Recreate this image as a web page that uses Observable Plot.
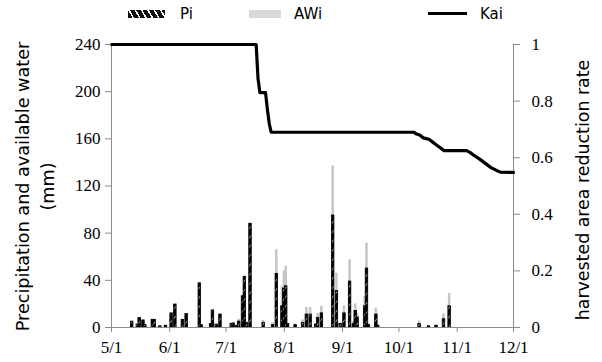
<!DOCTYPE html>
<html>
<head>
<meta charset="utf-8">
<script src="https://cdn.jsdelivr.net/npm/d3@7"></script>
<script src="https://cdn.jsdelivr.net/npm/@observablehq/plot@0.6"></script>
<style>
  body { margin: 0; background: white; }
  #wrap { position: relative; width: 602px; height: 362px; }
  #legend { position: relative; height: 30px; width: 602px; font-family: "DejaVu Sans", sans-serif; font-size: 15px; }
  #legend .sw { position: absolute; }
  #legend .lb { position: absolute; top: 5px; line-height: 18px; }
  #chart svg { background: white; overflow: visible; }
  #chart svg g[aria-label$="tick label"] text { font-family: "Liberation Serif"; }
</style>
</head>
<body>
<div id="wrap">
  <div id="legend">
    <div class="sw" style="left:128px;top:10px;width:37px;height:8px;background:repeating-linear-gradient(60deg,#111 0px,#111 4px,#fff 4px,#fff 5.5px);"></div>
    <div class="lb" style="left:180px;">Pi</div>
    <div class="sw" style="left:249px;top:10px;width:32px;height:8px;background:#d9d9d9;"></div>
    <div class="lb" style="left:294px;">AWi</div>
    <div class="sw" style="left:428px;top:12px;width:39px;height:3px;background:#000;"></div>
    <div class="lb" style="left:480px;">Kai</div>
  </div>
  <div id="chart"></div>
</div>
<script>
// Daily bars: date (MM-DD), precipitation Pi (mm), available water AWi (mm)
const barDates = ["05-12","05-15","05-16","05-18","05-19","05-23","05-24","05-27","05-30",
  "06-02","06-04","06-08","06-10","06-17","06-18","06-23","06-24","06-26","06-28",
  "07-04","07-05","07-07","07-08","07-10","07-11","07-12","07-14","07-21","07-26","07-28","07-31",
  "08-01","08-02","08-03","08-07","08-11","08-13","08-15","08-18","08-19","08-21","08-27","08-29","08-31",
  "09-02","09-05","09-07","09-08","09-09","09-13","09-14","09-15","09-19","09-20",
  "10-12","10-17","10-21","10-25","10-28"];
const piValues = [5,2.5,8,6,2,6.5,6.5,1,1.5,
  12,19.5,6.5,11.5,37.5,2,3,14.5,2.5,11,
  3,3.5,1.5,5,26.5,43,4,88,4,2,45.5,18,
  33,35,3,2,4,11,11,2.5,8,12,95,31,3,
  12,39,3,14,8.5,18,50,2,11,1.5,
  3,1,1.5,7,18];
const awiValues = [5,2.5,8,6,2,6.5,6.5,1,1.5,
  12,19.5,6.5,11.5,37.5,2,3,14.5,2.5,11,
  3,3.5,1.5,7,26.5,43,4,88,6,4,66,35,
  48,52,3,3,6.5,17,17,3,12,18,137,46,4,
  18.5,57.5,5,20,12,26,71.5,3,16.5,2,
  5.5,1.5,2,11.5,29];
// Harvested area reduction rate Kai
const kaiDates = ["05-01","07-17","07-18","07-19","07-22","07-23","07-24","07-25","10-09","10-10","10-12","10-14","10-17","10-19","10-21","10-23","10-25","11-06","11-08","11-10","11-13","11-16","11-19","11-22","11-24","12-01"];
const kaiValues = [1,1,0.88,0.83,0.83,0.77,0.72,0.69,0.69,0.685,0.68,0.67,0.665,0.655,0.645,0.635,0.625,0.625,0.618,0.608,0.595,0.58,0.565,0.555,0.549,0.548];
// Axis ticks
const xTickDates = ["05-01","06-01","07-01","08-01","09-01","10-01","11-01","12-01"];
const xTickLabels = ["5/1","6/1","7/1","8/1","9/1","10/1","11/1","12/1"];
const leftTicks = [0,40,80,120,160,200,240];
const rightTicks = [0,0.2,0.4,0.6,0.8,1];
const rightTickLabels = ["0","0.2","0.4","0.6","0.8","1"];

const parse = s => d3.utcParse("%Y-%m-%d")("2021-" + s);
const bars = barDates.map((s, i) => ({date: parse(s), pi: piValues[i], awi: awiValues[i]}));
const kai = kaiDates.map((s, i) => ({date: parse(s), kai: kaiValues[i]}));
const start = parse(xTickDates[0]);
const end = parse(xTickDates[xTickDates.length - 1]);
const YMAX = 240;

const x1 = d => d3.utcHour.offset(d.date, -16);
const x2 = d => d3.utcHour.offset(d.date, 16);
const serif = "Liberation Serif";

const svg = Plot.plot({
  width: 602,
  height: 332,
  marginLeft: 111,
  marginRight: 89,
  marginTop: 14,
  marginBottom: 35,
  x: {type: "utc", domain: [start, end]},
  y: {domain: [0, YMAX]},
  marks: [
    Plot.rectY(bars, {x1, x2, y: "awi", fill: "#c6c6c6"}),
    Plot.rectY(bars, {x1, x2, y: "pi", fill: "url(#hatch)", stroke: "#000", strokeWidth: 0.8}),
    Plot.ruleX([start], {stroke: "#8c8c8c"}),
    Plot.ruleX([end], {stroke: "#8c8c8c"}),
    Plot.ruleY([0], {stroke: "#8c8c8c"}),
    Plot.line(kai, {x: "date", y: d => d.kai * YMAX, stroke: "#000", strokeWidth: 3.2}),
    Plot.axisX({ticks: xTickDates.map(parse), tickFormat: (d, i) => xTickLabels[i], tickSize: 5, tickPadding: 8, fontSize: 17, fontFamily: serif, label: null}),
    Plot.axisY({anchor: "left", ticks: leftTicks, tickSize: 6, tickPadding: 5, fontSize: 17, fontFamily: serif, label: null}),
    Plot.axisY({anchor: "right", ticks: rightTicks.map(v => v * YMAX), tickFormat: (d, i) => rightTickLabels[i], tickSize: 6, tickPadding: 12, textAnchor: "start", fontSize: 17, fontFamily: serif, label: null})
  ]
});
document.getElementById("chart").appendChild(svg);

const s = d3.select(svg);
s.selectAll("g[aria-label$='tick'] path").attr("stroke", "#8c8c8c");
const defs = document.createElementNS("http://www.w3.org/2000/svg", "defs");
defs.innerHTML = '<pattern id="hatch" patternUnits="userSpaceOnUse" width="6" height="6" patternTransform="rotate(40)">' +
  '<rect width="6" height="6" fill="#000"/><line x1="0" y1="0" x2="0" y2="6" stroke="#fff" stroke-width="1.2"/></pattern>';
svg.appendChild(defs);
function title(x, y, size, str) {
  s.append("text").attr("transform", `translate(${x},${y}) rotate(-90)`)
    .attr("text-anchor", "middle").attr("dy", "0.35em")
    .attr("font-family", "DejaVu Sans").attr("font-size", size).attr("fill", "#000")
    .text(str);
}
title(23, 156.5, 17.6, "Precipitation and available water");
title(48, 156.5, 17.6, "(mm)");
title(583, 160, 17.4, "harvested area reduction rate");
</script>
</body>
</html>
